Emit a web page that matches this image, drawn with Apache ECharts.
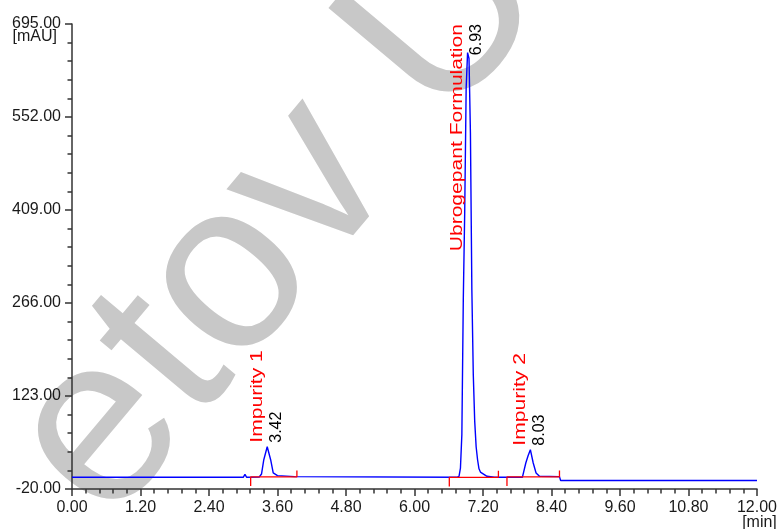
<!DOCTYPE html>
<html>
<head>
<meta charset="utf-8">
<script src="https://cdn.jsdelivr.net/npm/echarts@6/dist/echarts.min.js"></script>
<style>
  html, body { margin: 0; padding: 0; background: #ffffff; }
  #chart { width: 780px; height: 529px; }
</style>
</head>
<body>
<div id="chart"></div>
<script>
// Chromatogram trace: retention time (min) and detector response (mAU)
const traceTime = [
  0.00, 3.00, 3.03, 3.06,
  3.28, 3.32, 3.36, 3.42, 3.48, 3.525, 3.60, 3.90,
  6.74, 6.78, 6.805, 6.83, 6.855, 6.88, 6.905, 6.93, 6.955, 6.98, 7.005,
  7.03, 7.055, 7.08, 7.105, 7.13, 7.155, 7.18, 7.27, 7.40,
  7.89, 7.95, 7.99, 8.03, 8.08, 8.13, 8.19, 8.54, 8.56, 12.00
];
const traceSignal = [
  -2.0, -2.0, 2.5, -2.0,
  -1.5, 3.0, 25.0, 45.0, 25.0, 4.7, 0.6, -1.0,
  -2.0, -0.5, 12.0, 64.0, 271.0, 407.0, 596.0, 651.0, 642.0, 527.0, 286.0,
  156.0, 84.0, 45.0, 25.0, 11.0, 6.0, 4.0, -0.5, -2.0,
  -2.0, 20.0, 31.0, 40.5, 20.0, 4.7, -0.5, -1.0, -7.0, -7.0
];

// Integrated peaks
const peakNames   = ['Impurity 1', 'Ubrogepant Formulation', 'Impurity 2'];
const peakTimes   = [3.42, 6.93, 8.03];
const peakHeights = [45.0, 651.0, 40.5];
const peakStarts  = [3.13, 6.61, 7.62];
const peakEnds    = [3.94, 7.47, 8.54];
const peakBase    = [-1.5, -2.0, -1.5];

// Axis ticks
const xTicks = [0, 1.2, 2.4, 3.6, 4.8, 6.0, 7.2, 8.4, 9.6, 10.8, 12.0];
const yTicks = [-20, 123, 266, 409, 552, 695];
const xUnit = '[min]';
const yUnit = '[mAU]';

const FONT = 'Arial';
const AXIS_COLOR = '#333333';
const TEXT_COLOR = '#1a1a1a';

const chart = echarts.init(document.getElementById('chart'), null, { renderer: 'canvas' });

const traceData = traceTime.map((t, i) => [t, traceSignal[i]]);

// Integration marks: drop tick at peak start, baseline, rising tick at peak end
const markSeries = peakStarts.map((s, i) => {
  const b = peakBase[i];
  const e = peakEnds[i];
  return {
    type: 'line',
    data: [[s, b - 14], [s, b], [e, b], [e, b + 10]],
    showSymbol: false,
    symbol: 'none',
    silent: true,
    lineStyle: { color: '#ff0000', width: 1.3 },
    z: 4
  };
});

function axisCommon(ticks, margin) {
  return {
    type: 'value',
    min: ticks[0],
    max: ticks[ticks.length - 1],
    interval: ticks[1] - ticks[0],
    axisLine: { show: true, onZero: false, lineStyle: { color: AXIS_COLOR, width: 1.5 } },
    axisTick: { show: true, inside: false, length: 7, lineStyle: { color: AXIS_COLOR, width: 1.5 } },
    minorTick: { show: true, splitNumber: 5, length: 4.5, lineStyle: { color: AXIS_COLOR, width: 1.5 } },
    splitLine: { show: false },
    minorSplitLine: { show: false },
    axisLabel: {
      formatter: v => Number(v).toFixed(2),
      fontFamily: FONT,
      fontSize: 16,
      color: TEXT_COLOR,
      margin: margin,
      showMinLabel: true,
      showMaxLabel: true,
      hideOverlap: false
    }
  };
}

const xAxis = axisCommon(xTicks, 11);
const yAxis = axisCommon(yTicks, 11);
yAxis.axisLabel.padding = [0, 0, 4, 0];

chart.setOption({
  animation: false,
  backgroundColor: '#ffffff',
  grid: { left: 72, right: 23, top: 24, bottom: 40, containLabel: false },
  xAxis: xAxis,
  yAxis: yAxis,
  series: [
    {
      type: 'line',
      data: traceData,
      showSymbol: false,
      symbol: 'none',
      silent: true,
      lineStyle: { color: '#0000ff', width: 1.4 },
      z: 3
    }
  ].concat(markSeries)
});

// Text placement for peak annotations (rotated, reading bottom to top)
const measureCtx = document.createElement('canvas').getContext('2d');
function textWidth(str, size) {
  measureCtx.font = size + 'px ' + FONT;
  return measureCtx.measureText(str).width;
}
const plotTop = chart.convertToPixel({ yAxisIndex: 0 }, yTicks[yTicks.length - 1]);
const plotRight = chart.convertToPixel({ xAxisIndex: 0 }, xTicks[xTicks.length - 1]);

function verticalLabel(text, px, py, dx, size, stretch, color) {
  const len = textWidth(text, size) * stretch;
  let y = py - 4;
  let align = 'left';
  if (y - len < plotTop) { y = plotTop; align = 'right'; }
  return {
    type: 'text',
    x: px + dx,
    y: y,
    rotation: Math.PI / 2,
    scaleX: stretch,
    scaleY: 1,
    silent: true,
    z: 20,
    style: {
      text: text,
      fill: color,
      font: size + 'px ' + FONT,
      textAlign: align,
      textVerticalAlign: 'middle',
      align: align,
      verticalAlign: 'middle'
    }
  };
}

const graphics = [];
// faint background lettering
graphics.push({
  type: 'text',
  x: -45, y: 607,
  rotation: 50 * Math.PI / 180,
  silent: true,
  z: -10,
  style: {
    text: 'Ketov Ul',
    fill: '#c8c8c8',
    font: '240px ' + FONT,
    textAlign: 'left', align: 'left',
    textVerticalAlign: 'middle', verticalAlign: 'middle'
  }
});

peakTimes.forEach((t, i) => {
  const p = chart.convertToPixel({ xAxisIndex: 0, yAxisIndex: 0 }, [t, peakHeights[i]]);
  graphics.push(verticalLabel(peakNames[i], p[0], p[1], -10, 17, 1.24, '#ff0000'));
  graphics.push(verticalLabel(t.toFixed(2), p[0], p[1], 9.5, 16, 1, '#000000'));
});

// Axis unit captions
graphics.push({
  type: 'text', x: 57, y: 36.5, silent: true,
  style: { text: yUnit, fill: TEXT_COLOR, font: '16px ' + FONT,
           textAlign: 'right', align: 'right', textVerticalAlign: 'middle', verticalAlign: 'middle' }
});
graphics.push({
  type: 'text', x: plotRight + 2.5, y: 523, silent: true,
  style: { text: xUnit, fill: TEXT_COLOR, font: '16px ' + FONT,
           textAlign: 'center', align: 'center', textVerticalAlign: 'middle', verticalAlign: 'middle' }
});

chart.setOption({ graphic: { elements: graphics } });
</script>
</body>
</html>
